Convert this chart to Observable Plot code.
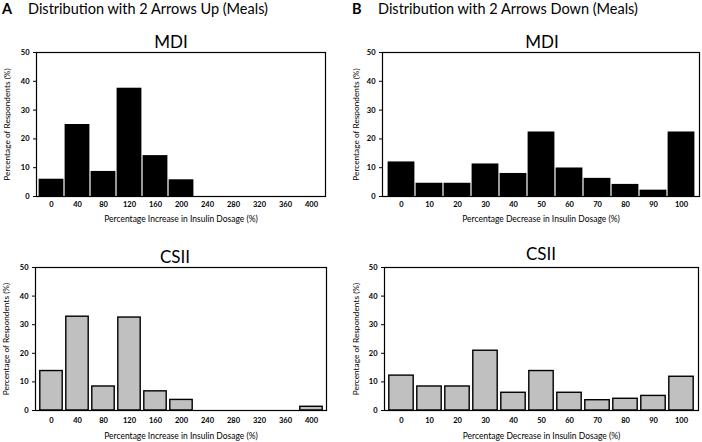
<!DOCTYPE html>
<html>
<head>
<meta charset="utf-8">
<script src="https://cdn.jsdelivr.net/npm/d3@7"></script>
<script src="https://cdn.jsdelivr.net/npm/@observablehq/plot@0.6"></script>
<style>
  html, body { margin: 0; padding: 0; background: #fff; }
  #root { position: relative; width: 702px; height: 442px; overflow: hidden; font-family: Lato, "Open Sans", sans-serif; color: #000; }
  .abs { position: absolute; }
  .head { font-size: 14.5px; white-space: nowrap; z-index: 2; line-height: 18px; }
  .head b { display: inline-block; width: 26px; }
  .sub { font-size: 17px; width: 120px; text-align: center; z-index: 2; line-height: 20px; }
</style>
</head>
<body>
<div id="root"></div>
<script>
const catsUp = ["0","40","80","120","160","200","240","280","320","360","400"];
const catsDown = ["0","10","20","30","40","50","60","70","80","90","100"];
const upMDI = [6, 25, 8.7, 37.6, 14.2, 5.8, 0, 0, 0, 0, 0];
const upCSII = [13.8, 32.8, 8.4, 32.5, 6.7, 3.7, 0, 0, 0, 0, 1.3];
const downMDI = [12, 4.6, 4.6, 11.3, 8, 22.4, 9.9, 6.3, 4.2, 2.2, 22.4];
const downCSII = [12.2, 8.4, 8.4, 20.9, 6.2, 13.8, 6.2, 3.6, 4.1, 5.1, 11.8];
const yTicks = [0, 10, 20, 30, 40, 50];
const xLabelUp = "Percentage Increase in Insulin Dosage (%)";
const xLabelDown = "Percentage Decrease in Insulin Dosage (%)";
const yLabel = "Percentage of Respondents (%)";

const root = document.getElementById("root");
function place(el, left, top) {
  el.classList.add("abs");
  el.style.left = left + "px";
  el.style.top = top + "px";
  root.appendChild(el);
}
function html(cls, text, left, top) {
  const d = document.createElement("div");
  d.className = cls;
  d.innerHTML = text;
  place(d, left, top);
}

function panel({cats, vals, kind, xLabel, height, marginLeft, marginRight, marginBottom, tickPad, xLabelDy, yLabelDx}) {
  const data = cats.map((c, i) => ({c, v: vals[i]})).filter(d => d.v > 0);
  const bar = kind === "mdi"
    ? Plot.barY(data, {x: "c", y: "v", fill: "black", insetLeft: 0.6, insetRight: 0.6})
    : Plot.barY(data, {x: "c", y: "v", fill: "#c0c0c0", stroke: "black", strokeWidth: 1.4, insetLeft: 1.8, insetRight: 1.8});
  return Plot.plot({
    width: 351, height, marginTop: 8, marginBottom, marginLeft, marginRight,
    style: {fontFamily: "Lato, 'Open Sans', sans-serif", background: "transparent", overflow: "visible"},
    x: {domain: cats, padding: 0, label: null},
    y: {domain: [0, 50], label: null},
    marks: [
      bar,
      Plot.frame({stroke: "black", strokeWidth: 1.2}),
      Plot.axisX({tickSize: 0, tickPadding: tickPad, fontSize: 7.5, fontWeight: "bold", label: null}),
      Plot.axisY({ticks: yTicks, tickSize: 3, tickPadding: 4, fontSize: 7.5, fontWeight: "bold", label: null}),
      Plot.text([xLabel], {frameAnchor: "bottom", dy: xLabelDy, fontSize: 8.5, lineAnchor: "middle"}),
      Plot.text([yLabel], {frameAnchor: "left", dx: yLabelDx, rotate: -90, fontSize: 8.3, lineAnchor: "middle", textAnchor: "middle"})
    ]
  });
}

place(panel({cats: catsUp, vals: upMDI, kind: "mdi", xLabel: xLabelUp, height: 186, marginLeft: 36, marginRight: 26, marginBottom: 34, tickPad: 5, xLabelDy: 23, yLabelDx: -29}), 0, 44);
place(panel({cats: catsDown, vals: downMDI, kind: "mdi", xLabel: xLabelDown, height: 186, marginLeft: 31, marginRight: 3, marginBottom: 34, tickPad: 5, xLabelDy: 23, yLabelDx: -26}), 351, 44);
place(panel({cats: catsUp, vals: upCSII, kind: "csii", xLabel: xLabelUp, height: 183, marginLeft: 35, marginRight: 25, marginBottom: 32, tickPad: 7, xLabelDy: 26, yLabelDx: -29}), 0, 259);
place(panel({cats: catsDown, vals: downCSII, kind: "csii", xLabel: xLabelDown, height: 183, marginLeft: 33, marginRight: 4, marginBottom: 32, tickPad: 7, xLabelDy: 26, yLabelDx: -28}), 351, 259);

html("head", "<b>A</b>Distribution with 2 Arrows Up (Meals)", 2, 0);
html("head", "<b>B</b>Distribution with 2 Arrows Down (Meals)", 352, 0);
html("sub", "MDI", 171 - 60, 32);
html("sub", "MDI", 542 - 60, 32);
html("sub", "CSII", 175 - 60, 247);
html("sub", "CSII", 541 - 60, 244);
</script>
</body>
</html>
